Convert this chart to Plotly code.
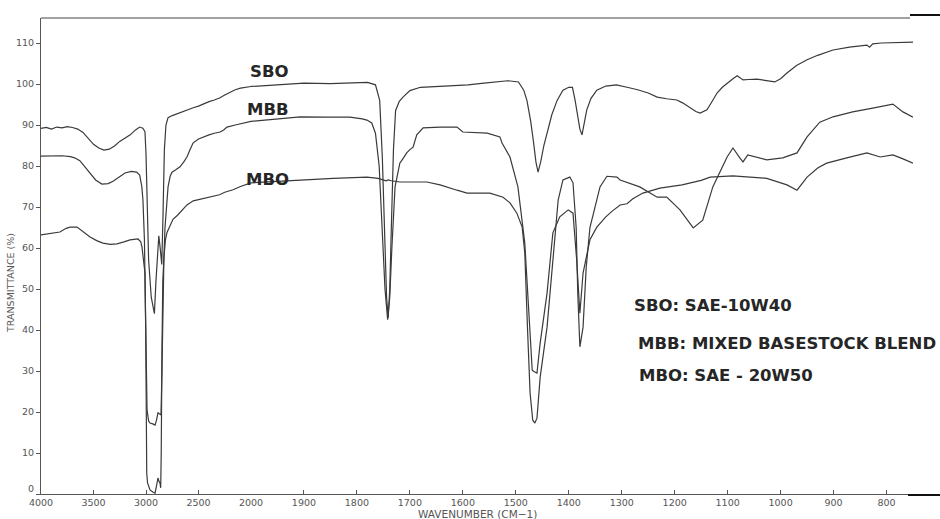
import plotly.graph_objects as go

# ---------------- data (wavenumber cm-1, transmittance %) ----------------
sbo_wn = [4000, 3950, 3900, 3850, 3800, 3750, 3700, 3650, 3600, 3550, 3500, 3450, 3400, 3350,
          3300, 3250, 3200, 3150, 3100, 3060, 3030, 3010, 3000, 2990, 2975, 2950, 2930, 2920,
          2905, 2890, 2878, 2865, 2850, 2838, 2825, 2810, 2790, 2750, 2700, 2650, 2600, 2550,
          2500, 2450, 2400, 2350, 2300, 2250, 2200, 2150, 2100, 2050, 2000,
          1950, 1900, 1850, 1800, 1780, 1765, 1757, 1752, 1748, 1744, 1741, 1738, 1735, 1731,
          1727, 1720, 1713, 1700, 1680, 1650, 1620, 1590, 1560, 1530, 1515, 1495, 1485, 1479,
          1472, 1467, 1462, 1458, 1453, 1447, 1441, 1432, 1422, 1411, 1400, 1393, 1388, 1384,
          1379, 1375, 1371, 1366, 1358, 1347, 1330, 1310, 1290, 1270, 1250, 1233, 1215, 1196,
          1185, 1171, 1160, 1152, 1139, 1130, 1120, 1110, 1101, 1090, 1082, 1075, 1071, 1060,
          1045, 1030, 1011, 1000, 988, 970, 950, 930, 901, 870, 837, 832, 826, 810, 780, 750]
sbo_t = [89.2, 89.4, 89.0, 89.5, 89.3, 89.6, 89.4, 89.0, 88.2, 86.8, 85.3, 84.4, 83.9, 84.1,
         84.9, 86.0, 86.8, 87.6, 88.8, 89.5, 89.2, 88.4, 83.0, 70.0, 57.0, 48.0, 45.0, 44.0,
         52.0, 60.0, 63.0, 60.0, 56.0, 68.0, 84.0, 90.0, 91.8, 92.3, 92.8, 93.3, 93.8, 94.2,
         94.6, 95.2, 95.7, 96.1, 96.6, 97.3, 98.0, 98.6, 99.0, 99.2, 99.4,
         99.8, 100.2, 100.1, 100.3, 100.4, 99.8, 96.0, 82.0, 62.0, 48.0, 43.0, 50.0, 65.0, 84.0,
         93.5, 95.8, 96.8, 98.4, 99.2, 99.4, 99.5, 99.8, 100.2, 100.6, 100.8, 100.5, 98.5, 96.0,
         91.0, 86.3, 81.0, 78.5, 81.0, 85.0, 88.0, 92.5, 96.0, 98.5, 99.2, 99.2, 96.0, 92.5,
         89.0, 87.6, 90.0, 93.7, 96.5, 98.5, 99.5, 99.8, 99.2, 98.6, 97.8, 96.8, 96.4, 96.1,
         95.4, 94.1, 93.3, 92.9, 93.7, 95.6, 97.8, 99.2, 100.2, 101.3, 102.0, 101.3, 101.0, 101.1,
         101.2, 100.9, 100.5, 101.3, 102.7, 104.5, 105.9, 107.0, 108.3, 109.0, 109.5, 109.0, 109.8,
         110.0, 110.1, 110.2]

mbb_wn = [4000, 3900, 3800, 3720, 3680, 3630, 3580, 3533, 3480, 3420, 3360, 3314, 3260, 3200,
          3140, 3090, 3060, 3040, 3029, 3015, 3005, 2995, 2990, 2975, 2962, 2935, 2914, 2900,
          2886, 2870, 2857, 2848, 2838, 2829, 2819, 2805, 2790, 2770, 2752, 2720, 2676, 2640,
          2610, 2580, 2552, 2500, 2457, 2400, 2350, 2295, 2260, 2229, 2150, 2080, 2000,
          1950, 1907, 1860, 1813, 1790, 1781, 1772, 1765, 1758, 1752, 1747, 1742, 1738, 1734,
          1730, 1728, 1724, 1719, 1712, 1706, 1700, 1694, 1687, 1675, 1643, 1611, 1600, 1580,
          1554, 1530, 1526, 1511, 1496, 1483, 1475, 1469, 1465, 1460, 1454, 1441, 1430, 1417,
          1401, 1392, 1385, 1379, 1373, 1366, 1360, 1347, 1330, 1318, 1303, 1290, 1279, 1260,
          1228, 1186, 1150, 1133, 1090, 1026, 988, 969, 960, 950, 930, 913, 875, 837, 812,
          800, 788, 770, 750]
mbb_t = [82.4, 82.4, 82.5, 82.3, 82.0, 81.3, 79.8, 78.3, 76.6, 75.6, 75.7, 76.3, 77.3, 78.3,
         78.7, 78.5, 77.8, 75.0, 71.7, 62.0, 45.0, 28.0, 20.5, 17.8, 17.3, 17.1, 16.8, 18.0,
         19.8, 19.5, 19.3, 30.0, 49.0, 58.0, 65.0, 71.0, 74.9, 77.5, 78.5, 79.0, 79.8, 81.0,
         82.2, 84.0, 85.6, 86.6, 87.1, 87.6, 88.0, 88.3, 88.8, 89.5, 90.0, 90.5, 90.9,
         91.4, 92.0, 91.9, 91.9, 91.5, 91.2, 90.5, 88.0, 80.0, 65.0, 50.0, 42.5, 48.0, 60.0,
         70.0, 74.9, 77.5, 80.7, 82.0, 83.2, 84.0, 84.6, 87.6, 89.3, 89.5, 89.5, 88.3, 88.1,
         88.0, 87.1, 85.6, 82.2, 74.9, 61.2, 44.9, 30.2, 29.8, 29.5, 36.8, 49.0, 63.7, 67.6,
         69.3, 68.5, 57.0, 44.1, 53.9, 58.8, 62.0, 65.1, 67.6, 69.0, 70.5, 70.8, 72.0, 73.4,
         74.6, 75.4, 76.5, 77.3, 77.6, 77.0, 75.4, 74.1, 75.5, 77.3, 79.5, 80.7, 82.0, 83.2, 82.2,
         82.5, 82.7, 81.8, 80.7]

mbo_wn = [4000, 3900, 3820, 3760, 3724, 3657, 3600, 3533, 3470, 3410, 3340, 3276, 3210, 3152,
          3076, 3050, 3038, 3020, 3010, 3003, 2998, 2993, 2985, 2962, 2935, 2914, 2900, 2886,
          2875, 2867, 2860, 2855, 2848, 2840, 2829, 2815, 2800, 2770, 2743, 2700, 2650, 2610,
          2550, 2515, 2450, 2362, 2300, 2250, 2171, 2100, 2050, 2000,
          1950, 1907, 1845, 1781, 1760, 1745, 1741, 1735, 1719, 1668, 1643, 1611, 1592, 1549,
          1524, 1511, 1498, 1488, 1483, 1478, 1473, 1468, 1464, 1460, 1454, 1441, 1430, 1420,
          1411, 1398, 1392, 1386, 1383, 1379, 1373, 1367, 1360, 1341, 1328, 1309, 1303, 1266,
          1233, 1215, 1190, 1165, 1147, 1128, 1101, 1090, 1077, 1071, 1062, 1026, 996, 969,
          950, 926, 901, 864, 826, 788, 769, 750]
mbo_t = [63.2, 63.5, 63.9, 64.8, 65.1, 65.1, 64.0, 62.7, 61.8, 61.2, 60.9, 61.0, 61.5, 62.0,
         62.2, 61.5, 60.2, 56.0, 53.9, 40.0, 20.0, 5.0, 2.7, 1.0, 0.5, 0.2, 2.0, 3.9,
         3.0, 2.7, 1.5, 10.0, 35.0, 52.0, 57.8, 62.0, 63.8, 65.5, 67.0, 68.0, 69.5, 70.5,
         71.5, 71.7, 72.0, 72.5, 73.0, 73.6, 74.2, 75.0, 75.5, 75.9,
         76.3, 76.6, 77.0, 77.3, 77.0, 76.4, 76.6, 76.4, 76.1, 76.1, 75.4, 74.1, 73.4, 73.4,
         72.4, 71.0, 68.5, 65.1, 58.8, 40.7, 24.6, 18.0, 17.3, 18.5, 28.5, 40.7, 57.0, 71.7,
         76.6, 77.3, 75.9, 65.0, 49.0, 35.9, 40.7, 55.4, 65.0, 74.9, 77.5, 77.3, 76.6, 74.9,
         72.4, 72.4, 69.3, 64.9, 66.8, 74.9, 82.2, 84.4, 82.0, 81.0, 82.7, 81.5, 82.0, 83.2,
         87.1, 90.7, 92.0, 93.2, 94.1, 95.1, 93.2, 91.9]

series_names = ["SBO", "MBB", "MBO"]
x_ticks_hi = [4000, 3500, 3000, 2500, 2000]
x_ticks_lo = [1900, 1800, 1700, 1600, 1500, 1400, 1300, 1200, 1100, 1000, 900, 800]
y_ticks = [0, 10, 20, 30, 40, 50, 60, 70, 80, 90, 100, 110]

# ---------------- figure ----------------
LINE = "#3a3a3a"
AX = "#555555"
TICKFONT = dict(family="DejaVu Sans", size=9.5, color="#555555")

fig = go.Figure()
for wn, t in [(sbo_wn, sbo_t), (mbb_wn, mbb_t), (mbo_wn, mbo_t)]:
    hi = [(w, v) for w, v in zip(wn, t) if w >= 2000]
    lo = [(w, v) for w, v in zip(wn, t) if w <= 2000]
    fig.add_trace(go.Scatter(x=[p[0] for p in hi], y=[p[1] for p in hi], xaxis="x", yaxis="y",
                             mode="lines", line=dict(color=LINE, width=1.2),
                             showlegend=False, hoverinfo="skip"))
    fig.add_trace(go.Scatter(x=[p[0] for p in lo], y=[p[1] for p in lo], xaxis="x2", yaxis="y",
                             mode="lines", line=dict(color=LINE, width=1.2),
                             showlegend=False, hoverinfo="skip"))

split = 210 / 872
axis_common = dict(showgrid=False, zeroline=False, showline=True, linecolor=AX, linewidth=1,
                   ticks="inside", ticklen=4, tickcolor=AX, tickfont=TICKFONT, anchor="y")

# the "0" label sits in the corner next to "4000"; it is drawn as a separate
# annotation nudged upward so the two labels do not collide
y_ticktext = ["" if v == 0 else str(v) for v in y_ticks]

fig.update_layout(
    width=940, height=519,
    margin=dict(l=41, r=27, t=18, b=25),
    paper_bgcolor="white", plot_bgcolor="white",
    hovermode=False,
    xaxis=dict(domain=[0, split], range=[4000, 2000], tickvals=x_ticks_hi, **axis_common),
    xaxis2=dict(domain=[split, 1], range=[2000, 750], tickvals=x_ticks_lo, **axis_common),
    yaxis=dict(range=[0, 116.1], tickvals=y_ticks, ticktext=y_ticktext, showgrid=False,
               zeroline=False, showline=True, linecolor=AX, linewidth=1, ticks="outside",
               ticklen=4, tickcolor=AX, tickfont=TICKFONT),
)

def px_x(p):
    return (p - 41) / 872

def px_y(p):
    return (494 - p) / 476

fig.add_annotation(text=str(y_ticks[0]), xref="paper", yref="y", x=px_x(36), y=y_ticks[0],
                   yshift=6, xanchor="right", yanchor="middle", showarrow=False,
                   font=TICKFONT)

# page/border lines of the scan
fig.add_shape(type="line", xref="paper", yref="paper", x0=0, x1=px_x(910), y0=1, y1=1,
              line=dict(color="#444444", width=1))
fig.add_shape(type="line", xref="paper", yref="paper", x0=px_x(910), x1=px_x(940),
              y0=px_y(15), y1=px_y(15), line=dict(color="#111111", width=2))
fig.add_shape(type="line", xref="paper", yref="paper", x0=px_x(908), x1=px_x(940),
              y0=px_y(495), y1=px_y(495), line=dict(color="#111111", width=2))

LABEL_FONT = dict(family="DejaVu Sans", size=16.5, color="#262626")
for name, (cx, cy) in zip(series_names, [(269, 71), (268, 109), (267, 179)]):
    fig.add_annotation(text="<b>" + name + "</b>", xref="paper", yref="paper",
                       x=px_x(cx), y=px_y(cy), xanchor="center", yanchor="middle",
                       showarrow=False, font=LABEL_FONT)

legend_lines = ["SBO: SAE-10W40", "MBB: MIXED BASESTOCK BLEND", "MBO: SAE - 20W50"]
for txt, (lx, ly) in zip(legend_lines, [(632, 305), (636, 343), (637, 375)]):
    fig.add_annotation(text="<b>" + txt + "</b>", xref="paper", yref="paper",
                       x=px_x(lx), y=px_y(ly), xanchor="left", yanchor="middle",
                       showarrow=False, font=LABEL_FONT)

fig.add_annotation(text="TRANSMITTANCE (%)", xref="paper", yref="paper",
                   x=px_x(10), y=px_y(283), xanchor="center", yanchor="middle",
                   textangle=-90, showarrow=False,
                   font=dict(family="DejaVu Sans", size=9.5, color="#555555"))
fig.add_annotation(text="WAVENUMBER (CM−1)", xref="paper", yref="paper",
                   x=px_x(477), y=px_y(514), xanchor="center", yanchor="middle",
                   showarrow=False,
                   font=dict(family="DejaVu Sans", size=10.5, color="#555555"))

fig.write_html("out.html")
